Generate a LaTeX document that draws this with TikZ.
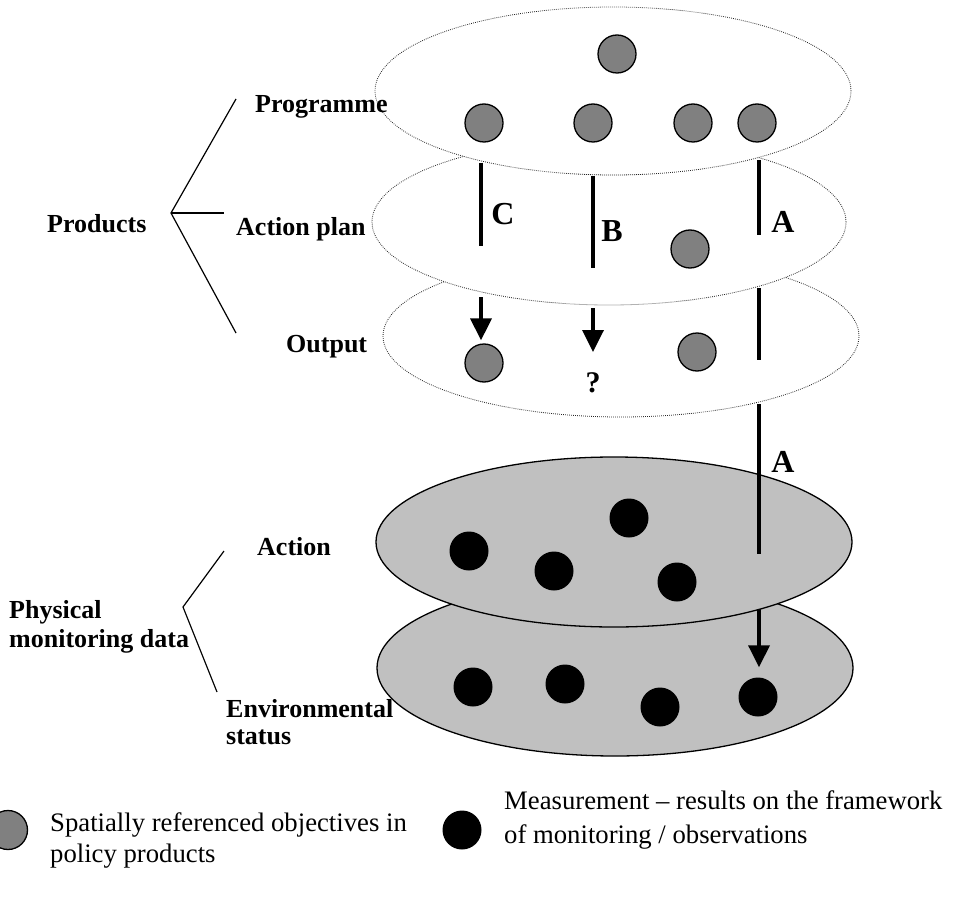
\documentclass[tikz,border=0pt]{standalone}
\usepackage{fontspec}
\setmainfont{Liberation Serif}
\usetikzlibrary{arrows.meta,shapes.geometric}
\definecolor{objgrey}{HTML}{808080}
\definecolor{layergrey}{HTML}{C0C0C0}
\begin{document}
\begin{tikzpicture}[x=1pt,y=-1pt,
  policylayer/.style={ellipse, draw=black!85, fill=white, line width=0.8pt,
    dash pattern=on 0.8pt off 1.2pt, inner sep=0pt,
    minimum width=476pt, minimum height=168pt},
  datalayer/.style={ellipse, draw=black, fill=layergrey, line width=1.3pt,
    inner sep=0pt, minimum width=476pt, minimum height=170pt},
  objective/.style={circle, draw=black, fill=objgrey, line width=1.3pt,
    inner sep=0pt, minimum size=38pt},
  measure/.style={circle, fill=black, inner sep=0pt, minimum size=39pt},
  lvl/.style={font=\bfseries\fontsize{26}{29}\selectfont, inner sep=0pt,
    anchor=base west, align=left},
  pathletter/.style={font=\bfseries\fontsize{32}{36}\selectfont, inner sep=0pt},
  link/.style={line width=3.5pt},
  flow/.style={line width=3.5pt, -{Triangle[length=22pt,width=21pt]}},
  braceline/.style={line width=1.2pt},
  legendtext/.style={font=\fontsize{26.7}{31}\selectfont, inner sep=0pt,
    anchor=base west, align=left}
]
\useasboundingbox (0,0) rectangle (957,901);

% ---- Output layer (bottom of the policy stack)
\node[policylayer, minimum height=162pt] (outL) at (621,336) {};
\node[objective] (o1) at (484,363) {};
\node[objective] (o2) at (697,352) {};
\coordinate (cO) at (481,297);
\coordinate (bO) at (593,308);
\coordinate (bT) at (593,352);
\coordinate (aO1) at (759,288);
\coordinate (aO2) at (759,360);
\draw[flow, shorten >=3pt] (cO) -- (cO |- o1.north);
\draw[flow] (bO) -- (bT);
\draw[link] (aO1) -- (aO2);
\node[pathletter, font=\bfseries\fontsize{30}{34}\selectfont] (q) at (593,383) {?};

% ---- Action plan layer
\node[policylayer, minimum width=474pt, minimum height=166pt] (planL) at (609,222) {};
\node[objective] (p1) at (690,249) {};

% ---- Programme layer (top of the policy stack)
\node[policylayer] (progL) at (613,91) {};
\node[objective] (g0) at (617,54) {};
\node[objective] (g1) at (484,123) {};
\node[objective] (g2) at (593,123) {};
\node[objective] (g3) at (693,123) {};
\node[objective] (g4) at (757,123) {};

% ---- pathways C, B and A through the action plan
\coordinate (c1) at (481,163);
\coordinate (c2) at (481,246);
\coordinate (b1) at (593,176);
\coordinate (b2) at (593,268);
\coordinate (a1) at (759,160);
\coordinate (a2) at (759,235);
\draw[link] (c1) -- (c2);
\draw[link] (b1) -- (b2);
\draw[link] (a1) -- (a2);
\node[pathletter] (lC) at (503,214) {C};
\node[pathletter] (lB) at (612,231) {B};
\node[pathletter] (lA) at (783,222) {A};

% ---- Environmental status layer
\node[datalayer, minimum height=176pt] (envL) at (615,668) {};
\node[measure] (e1) at (473,687) {};
\node[measure] (e2) at (565,684) {};
\node[measure] (e3) at (660,707) {};
\node[measure] (e4) at (758,697) {};
\coordinate (aD1) at (759,554);
\draw[flow, shorten >=10pt] (aD1) -- (aD1 |- e4.north);

% ---- Action layer
\node[datalayer] (actL) at (614,542) {};
\node[measure] (m1) at (469,551) {};
\node[measure] (m2) at (554,571) {};
\node[measure] (m3) at (629,518) {};
\node[measure] (m4) at (677,582) {};
\coordinate (aU1) at (759,404);
\draw[link] (aU1) -- (aD1);
\node[pathletter] (lA2) at (783,462) {A};

% ---- level labels and their brackets
\node[lvl] (tProducts) at (47,233) {Products};
\node[lvl] (tProg) at (255,113) {Programme};
\node[lvl] (tPlan) at (236,235) {Action plan};
\node[lvl] (tOut) at (286,352) {Output};
\coordinate (pApex) at (171,213);
\coordinate (pTop) at (236,99);
\coordinate (pMid) at (224,213);
\coordinate (pBot) at (236,333);
\draw[braceline] (pTop) -- (pApex) -- (pBot);
\draw[braceline] (pApex) -- (pMid);

\node[lvl] (tPhys) at (9,647) {Physical\\monitoring data};
\node[lvl] (tAct) at (257,555) {Action};
\node[lvl, font=\bfseries\fontsize{26}{27}\selectfont] (tEnv) at (226,744) {Environmental\\status};
\coordinate (dApex) at (183,607);
\coordinate (dTop) at (224,551);
\coordinate (dBot) at (217,692);
\draw[braceline] (dTop) -- (dApex) -- (dBot);

% ---- legend
\node[objective, minimum size=39pt] (lg1) at (8,830) {};
\node[legendtext] (lt1) at (50,862) {Spatially referenced objectives in\\policy products};
\node[measure] (lg2) at (462,830) {};
\node[legendtext, font=\fontsize{26.7}{34}\selectfont] (lt2) at (504,843) {Measurement – results on the framework\\of monitoring / observations};
\end{tikzpicture}
\end{document}
